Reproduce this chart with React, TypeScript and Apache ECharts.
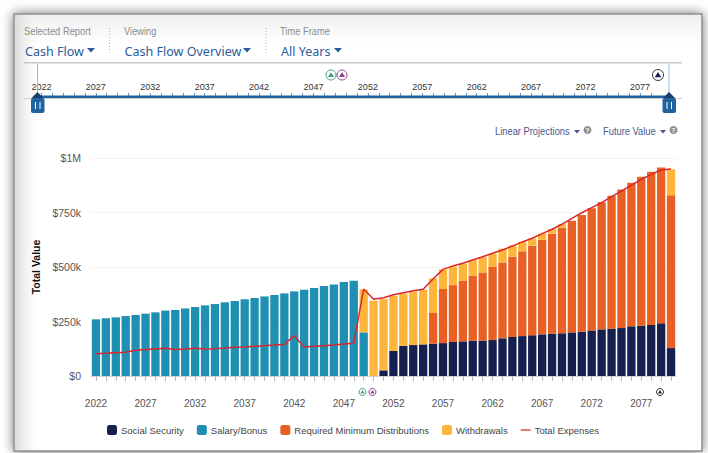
import React, { useEffect, useRef } from "react";
import * as echarts from "echarts";

const firstYear = 2022;
const years: string[] = [];
for (let y = firstYear; y <= 2080; y++) years.push(String(y));

// values in $ thousands, 2022..2080
const socialSecurity = [
  0,0,0,0,0,0,0,0,0,0,0,0,0,0,0,0,0,0,0,0,0,0,0,0,0,0,0,0,0,
  26,115,138,142,145,148,151,156,159,162,162,165,173,179,183,187,191,194,196,200,203,209,214,217,220,228,231,234,242,128,
];
const salaryBonus = [
  260,264.5,269,275,280,286,292,300,303,310,316.5,324,330,338,344,352,358,365,371.5,379,388,396,404,413,420,431,437,200,
  0,0,0,0,0,0,0,0,0,0,0,0,0,0,0,0,0,0,0,0,0,0,0,0,0,0,0,0,0,0,0,
].slice(0, 59);
const requiredMinimum = [
  0,0,0,0,0,0,0,0,0,0,0,0,0,0,0,0,0,0,0,0,0,0,0,0,0,0,0,0,0,0,0,0,0,0,
  141,248,261,277,297,313,335,348,368,389,411,434,459,484,512,535,560,583,610,635,659,683,703,714,701,
];
const withdrawals = [
  0,0,0,0,0,0,0,0,0,0,0,0,0,0,0,0,0,0,0,0,0,0,0,0,0,0,0,
  197,345,327,253,241,246,251,159,90,84.5,79,73,70.5,61,63,51,43,33,28,21,16,0,0,0,0,0,0,0,0,0,0,119,
];
const totalExpenses = [
  102,104,107,108.5,118,121,124,127,122,124,127,124,125,128,131.5,133,136,139,142,145,185,133,136,139,142,147,150,
  399,352,359,373,382,391,398,445,489,505,517,532,547,563,578,596,615,632,653,673,696,723,749,772,795,823,848,876,902,925,945,950,
];
const yTicks = { max: 1000, interval: 250 };
const barNames = ["Social Security", "Salary/Bonus", "Required Minimum Distributions", "Withdrawals"];
const lineName = "Total Expenses";
const colors = { navy: "#16204f", teal: "#2090b2", orange: "#e96024", yellow: "#fdb53a", red: "#d9262e" };

const sans = "'Liberation Sans', Arial, sans-serif";
const ui = "'Noto Sans', sans-serif";

const txt = (x: number, y: number, text: string, fontSize: number, fill: string, fontFamily = sans, extra: any = {}, scaleX = 1) => ({
  type: "text", x, y, z: 20, scaleX, originX: 0,
  style: { text, fontSize, fill, fontFamily, textVerticalAlign: "middle", ...extra },
});
const tri = (x: number, y: number, w: number, h: number, fill: string) => ({
  type: "polygon", z: 20,
  shape: { points: [[x, y], [x + w, y], [x + w / 2, y + h]] },
  style: { fill },
});
const question = (x: number, y: number) => [
  { type: "circle", z: 20, shape: { cx: x, cy: y, r: 4 }, style: { fill: "#8d8d8d" } },
  txt(x, y, "?", 7, "#fff", sans, { fontWeight: "bold", align: "center", textAlign: "center" }),
];
const dots = (x: number) => ({
  type: "line", z: 20,
  shape: { x1: x, y1: 28, x2: x, y2: 54 },
  style: { stroke: "#b5b5b5", lineWidth: 1, lineDash: [1, 2] },
});
const handle = (cx: number) => [
  { type: "line", z: 19, shape: { x1: cx, y1: 64, x2: cx, y2: 97 }, style: { stroke: "#8fbbe6", lineWidth: 1 } },
  { type: "polygon", z: 21, shape: { points: [[cx, 92], [cx + 6, 98], [cx - 6, 98]] }, style: { fill: "#1b3f6b" } },
  { type: "rect", z: 21, shape: { x: cx - 6.5, y: 98, width: 13.5, height: 15, r: 2 }, style: { fill: "#1f64a0" } },
  { type: "rect", z: 22, shape: { x: cx - 2.5, y: 102, width: 1, height: 7 }, style: { fill: "#fff" } },
  { type: "rect", z: 22, shape: { x: cx + 2, y: 102, width: 1, height: 7 }, style: { fill: "#fff" } },
];
const milestone = (cx: number, cy: number, r: number, stroke: string, fill: string) => [
  { type: "circle", z: 20, shape: { cx, cy, r }, style: { fill: "#fff", stroke, lineWidth: 1 } },
  { type: "polygon", z: 21, shape: { points: [[cx, cy - r * 0.55], [cx + r * 0.6, cy + r * 0.4], [cx - r * 0.6, cy + r * 0.4]] }, style: { fill } },
];

const graphicElements: any[] = [
  // screenshot frame
  { type: "rect", z: -3, shape: { x: 14, y: 14, width: 688, height: 437 },
    style: { fill: "#fff", stroke: "#8a8a8a", lineWidth: 1.5, shadowBlur: 12, shadowColor: "rgba(0,0,0,0.55)" } },
  { type: "rect", z: -2, shape: { x: 15, y: 15, width: 686, height: 28 },
    style: { fill: { type: "linear", x: 0, y: 0, x2: 0, y2: 1, colorStops: [{ offset: 0, color: "#efefef" }, { offset: 1, color: "#ffffff" }] } } },
  { type: "rect", z: -2, shape: { x: 15, y: 15, width: 28, height: 435 },
    style: { fill: { type: "linear", x: 0, y: 0, x2: 1, y2: 0, colorStops: [{ offset: 0, color: "rgba(215,215,215,0.9)" }, { offset: 1, color: "rgba(255,255,255,0)" }] } } },
  // header
  txt(24, 31, "Selected Report", 10.5, "#8c8c8c", sans, {}, 0.89),
  txt(124, 31, "Viewing", 10.5, "#8c8c8c", sans, {}, 0.89),
  txt(280, 31, "Time Frame", 10.5, "#8c8c8c", sans, {}, 0.89),
  txt(25, 51, "Cash Flow", 13.5, "#2c5c9c", ui, {}, 0.93),
  tri(87, 48, 8, 4.5, "#2c5c9c"),
  txt(124.5, 51, "Cash Flow Overview", 13.5, "#2c5c9c", ui, {}, 0.93),
  tri(243, 48, 8, 4.5, "#2c5c9c"),
  txt(281, 51, "All Years", 13.5, "#2c5c9c", ui, {}, 0.93),
  tri(334, 48, 8, 4.5, "#2c5c9c"),
  dots(109.5),
  dots(266),
  { type: "rect", z: 20, shape: { x: 24, y: 62, width: 658, height: 1.5 }, style: { fill: "#c8c8c8" } },
  // time slider
  { type: "rect", z: 18, shape: { x: 24, y: 98, width: 658, height: 1 }, style: { fill: "#d0d0d0" } },
  { type: "rect", z: 20, shape: { x: 38, y: 95.5, width: 631, height: 2.5 }, style: { fill: "#1f64a0" } },
  ...handle(37.5),
  ...handle(669),
  ...milestone(331, 75, 5, "#3aa37a", "#3aa37a"),
  ...milestone(342, 75, 5, "#8c3f8c", "#8c3f8c"),
  ...milestone(658, 75, 5.5, "#333", "#16204f"),
  // options
  txt(495, 131.5, "Linear Projections", 10.5, "#47568f", sans, {}, 0.89),
  tri(574, 130, 6, 3.5, "#47568f"),
  ...question(587.5, 130),
  txt(603, 131.5, "Future Value", 10.5, "#47568f", sans, {}, 0.89),
  tri(660, 130, 6, 3.5, "#47568f"),
  ...question(673.5, 130),
  // milestones below axis
  ...milestone(362.5, 392, 3.5, "#3aa37a", "#3aa37a"),
  ...milestone(372.5, 392, 3.5, "#8c3f8c", "#8c3f8c"),
  ...milestone(660, 392, 3.5, "#333", "#16204f"),
];

const barSeries = (name: string, data: number[], color: string) => ({
  name, type: "bar", stack: "cash", data, barCategoryGap: "16%",
  xAxisIndex: 0, yAxisIndex: 0, itemStyle: { color }, z: 5,
});

export default function App() {
  const ref = useRef<HTMLDivElement>(null);
  useEffect(() => {
    const chart = echarts.init(ref.current!, undefined, { renderer: "svg" });
    chart.setOption({
      animation: false,
      backgroundColor: "#fff",
      textStyle: { fontFamily: sans },
      grid: [
        { left: 91, width: 585, top: 158, height: 218 },
        { left: 36, width: 642, top: 96, height: 1 },
      ],
      xAxis: [
        {
          type: "category", gridIndex: 0, data: years, boundaryGap: true,
          axisLine: { lineStyle: { color: "#d5d5d5" } },
          axisTick: { show: true, interval: 0, alignWithLabel: true, length: 5, lineStyle: { color: "#bdbdbd" } },
          axisLabel: { interval: 4, margin: 22, fontSize: 10, color: "#555", fontFamily: sans },
        },
        {
          type: "category", gridIndex: 1, position: "top", data: years, boundaryGap: true,
          axisLine: { show: false },
          axisTick: { show: true, interval: (i: number) => i < 57, alignWithLabel: true, length: 4, lineStyle: { color: "#6f93b8" } },
          axisLabel: { interval: 4, margin: 5, fontSize: 9, color: "#333", fontFamily: sans },
        },
      ],
      yAxis: [
        {
          type: "value", gridIndex: 0, min: 0, max: yTicks.max, interval: yTicks.interval,
          name: "Total Value", nameLocation: "middle", nameGap: 40,
          nameTextStyle: { fontSize: 10.5, fontWeight: "bold", color: "#111", fontFamily: sans },
          axisLine: { show: false }, axisTick: { show: false },
          splitLine: { lineStyle: { color: "#f3f3f3" } },
          axisLabel: {
            margin: 10, fontSize: 10.5, color: "#555", fontFamily: sans,
            formatter: (v: number) => (v === 0 ? "$0" : v === 1000 ? "$1M" : `$${v}k`),
          },
        },
        { type: "value", gridIndex: 1, show: false },
      ],
      legend: {
        data: [...barNames, { name: lineName, icon: "path://M0 4.4H10V5.6H0Z" }],
        left: 102, top: 420, itemWidth: 10, itemHeight: 10, itemGap: 13,
        textStyle: { fontSize: 9.5, color: "#444", fontFamily: sans, padding: [0, 0, 0, -1] },
        selectedMode: false,
      },
      series: [
        barSeries(barNames[0], socialSecurity, colors.navy),
        barSeries(barNames[1], salaryBonus, colors.teal),
        barSeries(barNames[2], requiredMinimum, colors.orange),
        barSeries(barNames[3], withdrawals, colors.yellow),
        {
          name: lineName, type: "line", data: totalExpenses, showSymbol: false, symbol: "none",
          xAxisIndex: 0, yAxisIndex: 0, z: 10,
          lineStyle: { color: colors.red, width: 1.5 }, itemStyle: { color: colors.red },
        },
        { type: "line", data: [], xAxisIndex: 1, yAxisIndex: 1 },
      ],
      graphic: { elements: graphicElements },
    });
    return () => chart.dispose();
  }, []);
  return <div ref={ref} style={{ position: "fixed", left: 0, top: 0, width: 708, height: 453 }} />;
}
